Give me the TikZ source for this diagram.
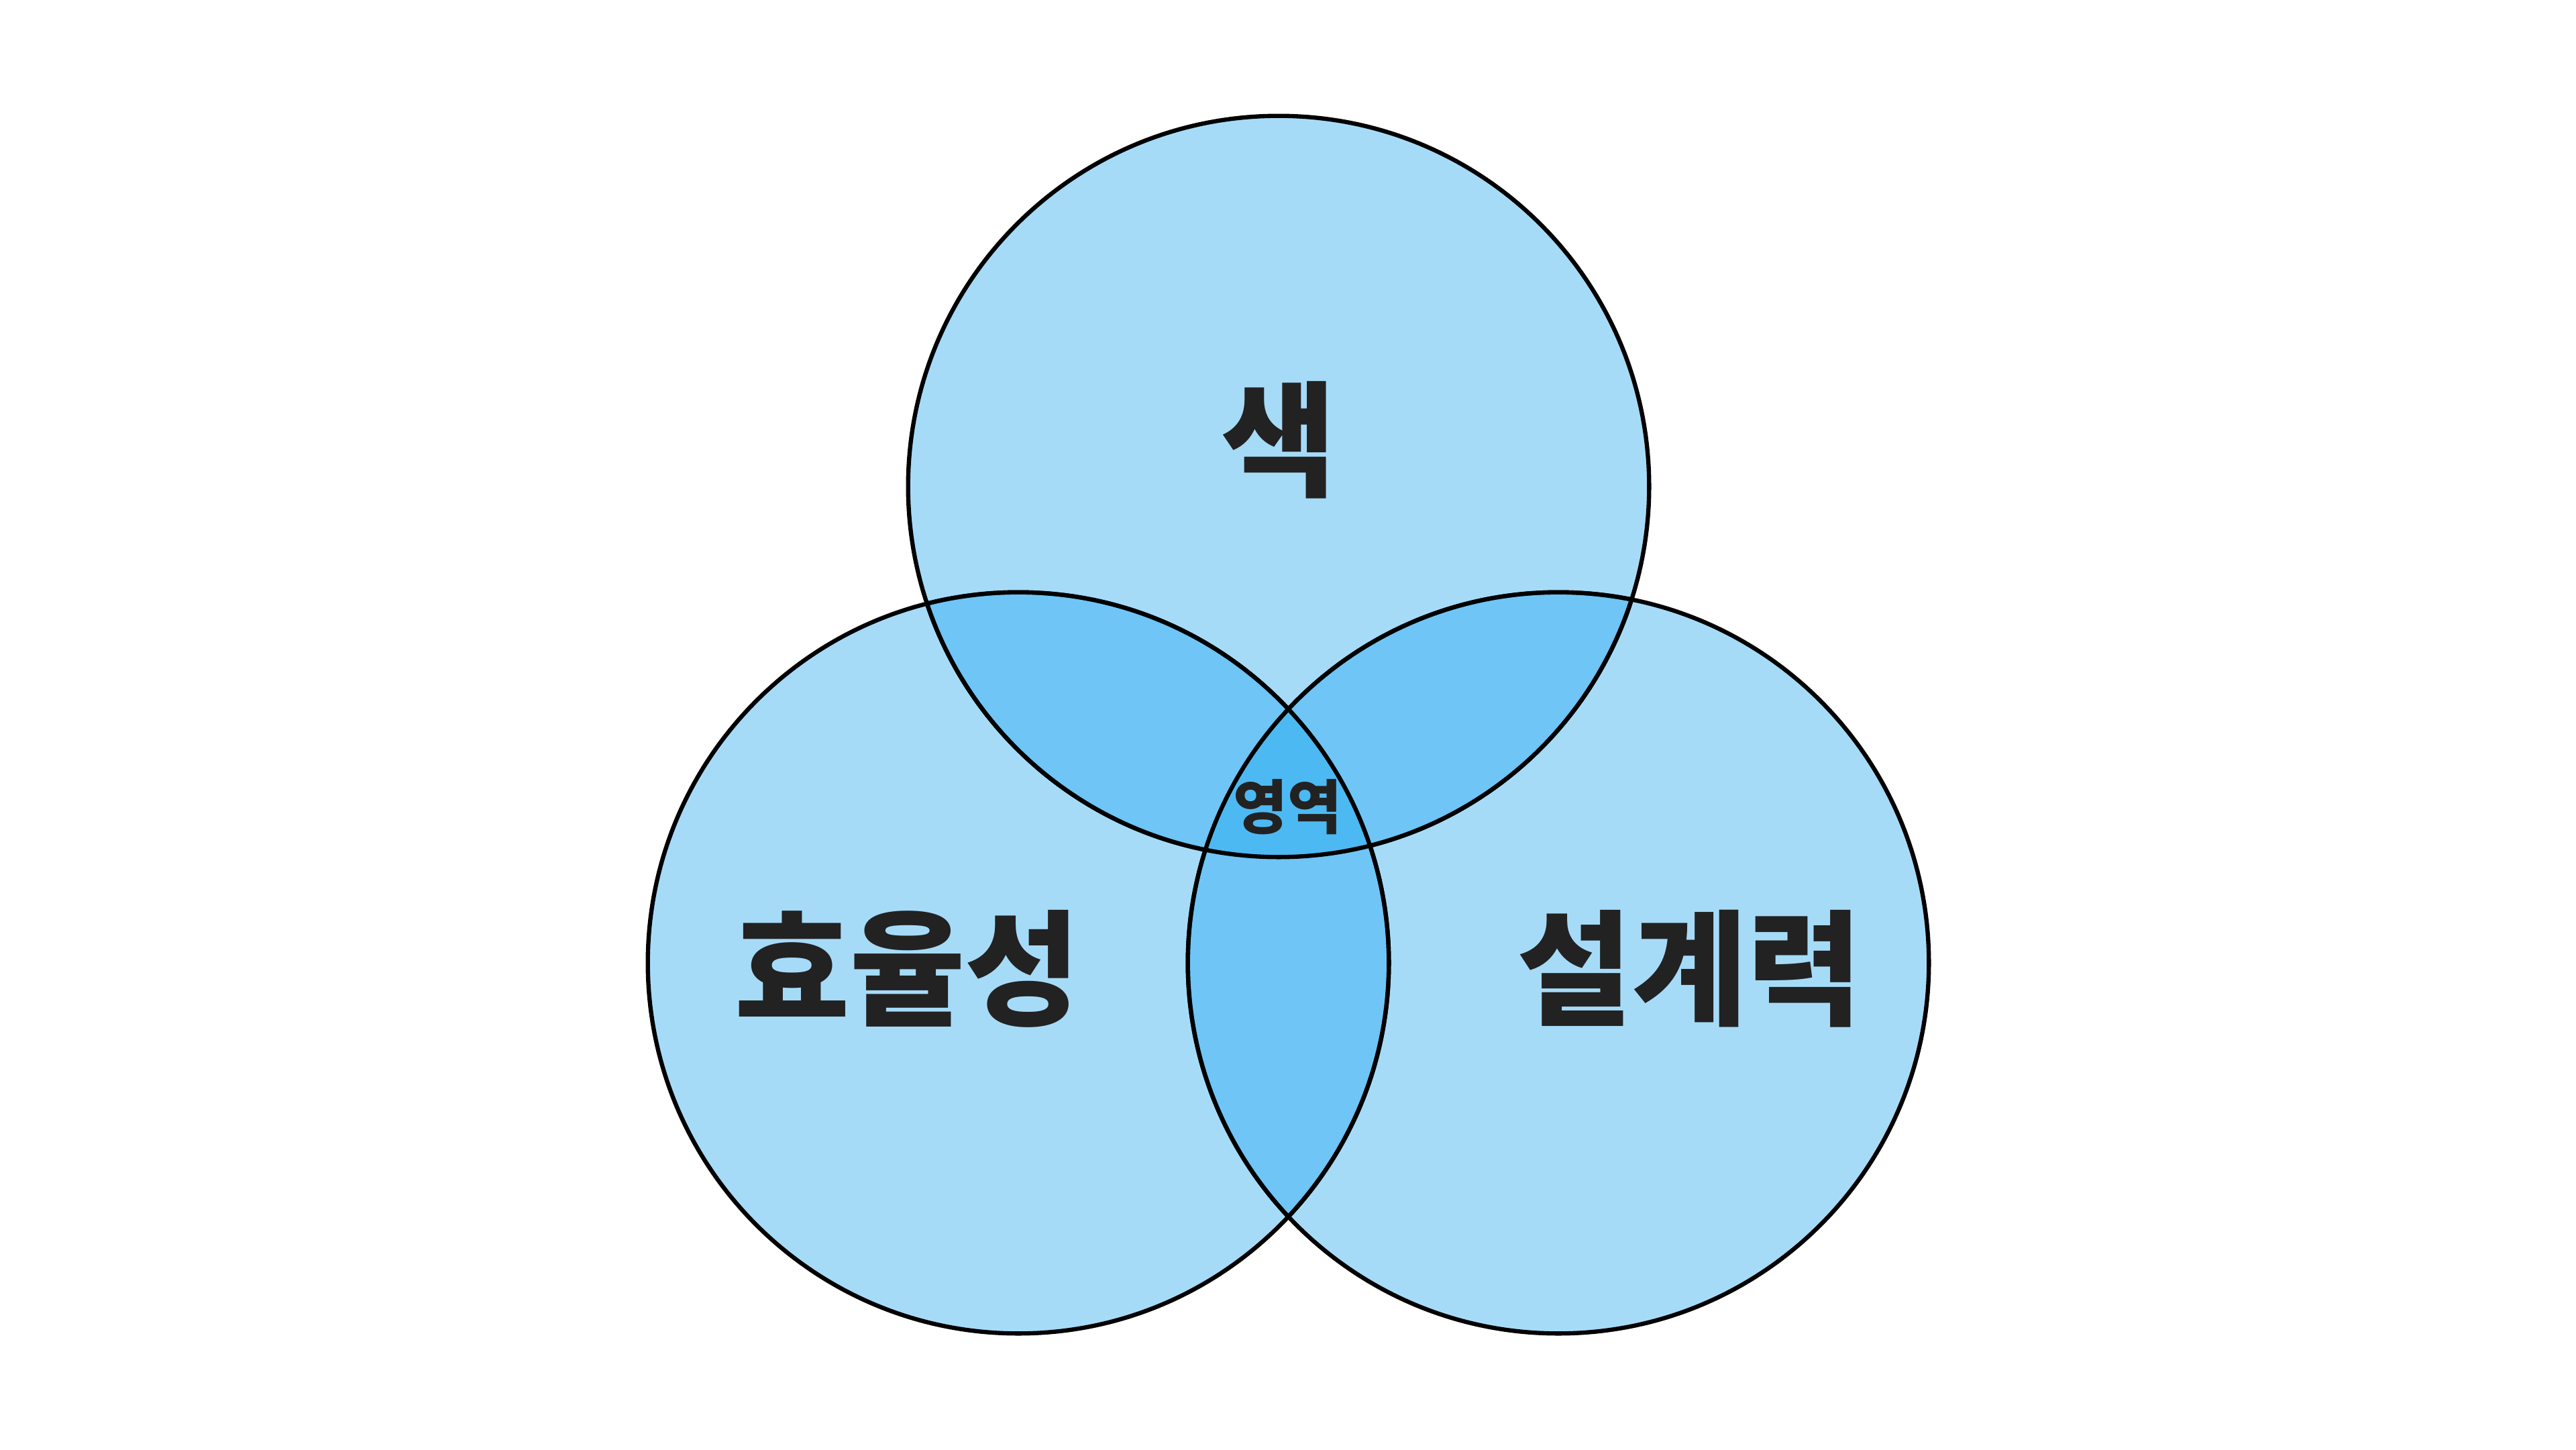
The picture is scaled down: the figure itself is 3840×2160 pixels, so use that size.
\documentclass[tikz,border=0pt]{standalone}
\usepackage{fontspec}
\newfontfamily\kr{Noto Sans CJK KR}
\definecolor{lightc}{HTML}{A6DBF8}
\definecolor{lensc}{HTML}{6FC5F5}
\definecolor{centerc}{HTML}{4DB9F2}
\definecolor{textc}{HTML}{222222}
\definecolor{navyc}{HTML}{0E4466}
\tikzset{
  ring/.style={draw=black,line width=1.8pt},
  bigtext/.style={text=textc,font=\kr\bfseries\fontsize{53}{58}\selectfont,inner sep=0pt},
  smalltext/.style={text=textc,font=\kr\bfseries\fontsize{25}{28}\selectfont,inner sep=0pt},
}
\begin{document}
\begin{tikzpicture}[x=0.01cm,y=-0.01cm]
\useasboundingbox[fill=white] (0,0) rectangle (3840,2160);
\coordinate (T) at (1906,725);
\coordinate (L) at (1518,1435);
\coordinate (R) at (2323,1435);
\def\rr{5.52cm}
% base fills
\fill[lightc] (T) circle[radius=\rr];
\fill[lightc] (L) circle[radius=\rr];
\fill[lightc] (R) circle[radius=\rr];
% offset lens strokes (black outside)
\begin{scope}[shift={(0,-8)}]
  \begin{scope}\clip (T) circle[radius=\rr]; \draw[ring] (L) circle[radius=\rr];\end{scope}
  \begin{scope}\clip (L) circle[radius=\rr]; \draw[ring] (T) circle[radius=\rr];\end{scope}
  \begin{scope}\clip (T) circle[radius=\rr]; \draw[ring] (R) circle[radius=\rr];\end{scope}
  \begin{scope}\clip (R) circle[radius=\rr]; \draw[ring] (T) circle[radius=\rr];\end{scope}
\end{scope}
\begin{scope}[shift={(-8,0)}]
  \begin{scope}\clip (L) circle[radius=\rr]; \draw[ring] (R) circle[radius=\rr];\end{scope}
  \begin{scope}\clip (R) circle[radius=\rr]; \draw[ring] (L) circle[radius=\rr];\end{scope}
\end{scope}
% lens fills
\begin{scope}\clip (T) circle[radius=\rr]; \fill[lensc] (L) circle[radius=\rr];\end{scope}
\begin{scope}\clip (T) circle[radius=\rr]; \fill[lensc] (R) circle[radius=\rr];\end{scope}
\begin{scope}\clip (L) circle[radius=\rr]; \fill[lensc] (R) circle[radius=\rr];\end{scope}
% navy inner offset strokes
\begin{scope}\clip (T) circle[radius=\rr]; \clip (L) circle[radius=\rr];
  \begin{scope}[shift={(0,-8)}]
    \draw[ring,draw=navyc] (T) circle[radius=\rr];
    \draw[ring,draw=navyc] (L) circle[radius=\rr];
  \end{scope}
\end{scope}
\begin{scope}\clip (T) circle[radius=\rr]; \clip (R) circle[radius=\rr];
  \begin{scope}[shift={(0,-8)}]
    \draw[ring,draw=navyc] (T) circle[radius=\rr];
    \draw[ring,draw=navyc] (R) circle[radius=\rr];
  \end{scope}
\end{scope}
\begin{scope}\clip (L) circle[radius=\rr]; \clip (R) circle[radius=\rr];
  \begin{scope}[shift={(-8,0)}]
    \draw[ring,draw=navyc] (L) circle[radius=\rr];
    \draw[ring,draw=navyc] (R) circle[radius=\rr];
  \end{scope}
\end{scope}
% center
\begin{scope}\clip (T) circle[radius=\rr]; \clip (L) circle[radius=\rr]; \fill[centerc] (R) circle[radius=\rr];\end{scope}
% outlines
\draw[ring] (T) circle[radius=\rr];
\draw[ring] (L) circle[radius=\rr];
\draw[ring] (R) circle[radius=\rr];
% labels
\node[bigtext] (tT) at (1906,656) {색};
\node[bigtext] (tL) at (1353,1444) {효율성};
\node[bigtext] (tR) at (2519,1444) {설계력};
\node[smalltext] (tC) at (1919,1203) {영역};
\end{tikzpicture}
\end{document}
